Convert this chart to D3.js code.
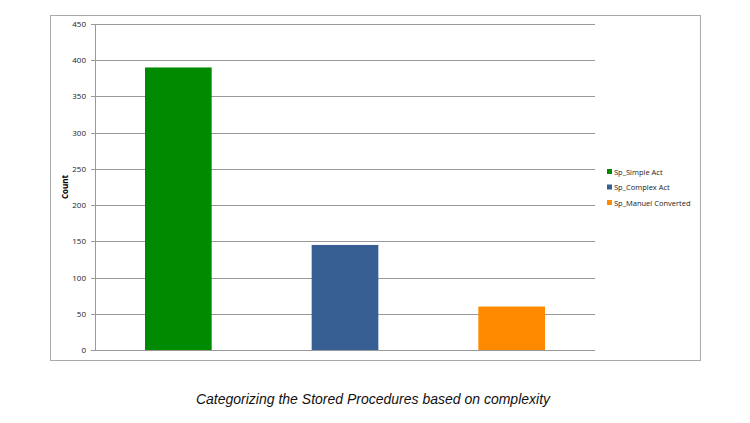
<!DOCTYPE html>
<html><head><meta charset="utf-8">
<script src="https://cdn.jsdelivr.net/npm/d3@7"></script>
<style>body{margin:0;background:#fff}</style>
</head><body>
<script>
const categories = ["Sp_Simple Act", "Sp_Complex Act", "Sp_Manuel Converted"];
const counts = [390, 145, 60];
const colors = ["#008a00", "#375f94", "#ff8a00"];
const yTicks = [0, 50, 100, 150, 200, 250, 300, 350, 400, 450];

const svg = d3.select("body").append("svg").attr("width", 750).attr("height", 423);

svg.append("rect").attr("x", 50.5).attr("y", 15.5).attr("width", 650).attr("height", 345)
    .attr("fill", "none").attr("stroke", "#aaa");

const x = d3.scaleBand().domain(categories).range([95, 595]).paddingInner(0.6).paddingOuter(0.3);
const y = d3.scaleLinear().domain([0, 450]).range([350, 24]);

svg.append("g").selectAll("line").data(yTicks).enter().append("line")
    .attr("x1", 91).attr("x2", 595)
    .attr("y1", d => Math.round(y(d)) + 0.5).attr("y2", d => Math.round(y(d)) + 0.5)
    .attr("stroke", "#999").attr("stroke-width", 1);
svg.append("line").attr("x1", 95.5).attr("x2", 95.5).attr("y1", 24).attr("y2", 350).attr("stroke", "#999");

svg.append("g").selectAll("text").data(yTicks).enter().append("text")
    .attr("x", 86).attr("y", d => y(d) + 3)
    .attr("text-anchor", "end").attr("font-family", "Open Sans, sans-serif").attr("font-size", 8)
    .attr("fill", "#222").text(d => d);

svg.append("text").attr("transform", "translate(68,187) rotate(-90)")
    .attr("text-anchor", "middle").attr("font-family", "Open Sans, sans-serif")
    .attr("font-size", 8).attr("font-weight", "bold").text("Count");

svg.append("g").selectAll("rect").data(counts).enter().append("rect")
    .attr("x", (d, i) => x(categories[i])).attr("width", x.bandwidth())
    .attr("y", d => y(d)).attr("height", d => y(0) - y(d))
    .attr("fill", (d, i) => colors[i]);

const lg = svg.append("g").selectAll("g").data(categories).enter().append("g")
    .attr("transform", (d, i) => `translate(607,${172 + i * 15.5})`);
lg.append("rect").attr("x", 0).attr("y", -3).attr("width", 5).attr("height", 5).attr("fill", (d, i) => colors[i]);
lg.append("text").attr("x", 7).attr("y", 2.5).attr("font-family", "Open Sans, sans-serif")
    .attr("font-size", 7.5).attr("fill", "#222").text(d => d);

svg.append("text").attr("x", 373).attr("y", 404).attr("text-anchor", "middle")
    .attr("font-family", "Liberation Sans, Arial, sans-serif").attr("font-style", "italic")
    .attr("font-size", 14).attr("fill", "#111").text("Categorizing the Stored Procedures based on complexity");
</script>
</body></html>
